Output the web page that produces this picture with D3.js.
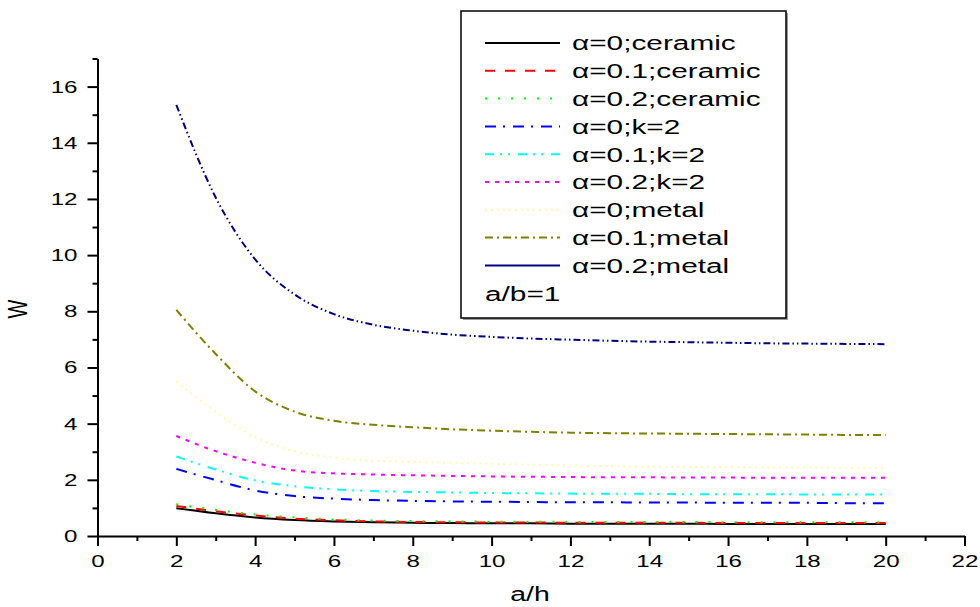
<!DOCTYPE html>
<html>
<head>
<meta charset="utf-8">
<script src="https://cdn.jsdelivr.net/npm/d3@7"></script>
<style>
  body { margin: 0; background: #fff; }
  svg { display: block; }
  text { font-family: "Liberation Sans", Arial, sans-serif; fill: #000; }
</style>
</head>
<body>
<svg id="chart" width="980" height="607"></svg>
<script>
// a/h values the curves were sampled at
const aOverH = [2, 3, 4, 5, 6, 7, 8, 9, 10, 11, 12, 13, 14, 15, 16, 17, 18, 19, 20];

// W
const ceramicA0  = [0.99, 0.81, 0.66, 0.57, 0.52, 0.49, 0.47, 0.46, 0.45, 0.45, 0.44, 0.44, 0.44, 0.44, 0.43, 0.43, 0.43, 0.43, 0.43];
const ceramicA01 = [1.07, 0.88, 0.73, 0.62, 0.56, 0.52, 0.50, 0.49, 0.48, 0.48, 0.47, 0.47, 0.47, 0.47, 0.46, 0.46, 0.46, 0.46, 0.46];
const ceramicA02 = [1.13, 0.93, 0.77, 0.66, 0.59, 0.55, 0.53, 0.52, 0.51, 0.51, 0.50, 0.50, 0.50, 0.50, 0.49, 0.49, 0.49, 0.49, 0.49];
const k2A0       = [2.39, 1.99, 1.62, 1.42, 1.33, 1.28, 1.25, 1.23, 1.22, 1.21, 1.20, 1.20, 1.19, 1.19, 1.18, 1.18, 1.18, 1.17, 1.17];
const k2A01      = [2.83, 2.37, 1.98, 1.77, 1.66, 1.60, 1.57, 1.55, 1.53, 1.52, 1.51, 1.50, 1.50, 1.49, 1.49, 1.49, 1.48, 1.48, 1.48];
const k2A02      = [3.56, 3.02, 2.61, 2.33, 2.23, 2.19, 2.16, 2.14, 2.12, 2.11, 2.10, 2.09, 2.09, 2.08, 2.08, 2.07, 2.07, 2.07, 2.07];
const metalA0    = [5.50, 4.42, 3.52, 3.02, 2.79, 2.68, 2.64, 2.61, 2.57, 2.54, 2.51, 2.49, 2.47, 2.46, 2.45, 2.44, 2.44, 2.43, 2.43];
const metalA01   = [8.05, 6.48, 5.15, 4.43, 4.10, 3.96, 3.87, 3.80, 3.75, 3.71, 3.68, 3.66, 3.65, 3.64, 3.63, 3.62, 3.61, 3.60, 3.60];
const metalA02   = [15.35, 12.05, 9.85, 8.60, 7.90, 7.52, 7.31, 7.17, 7.09, 7.03, 6.99, 6.95, 6.92, 6.90, 6.88, 6.86, 6.85, 6.84, 6.83];

const xMajor = [0, 2, 4, 6, 8, 10, 12, 14, 16, 18, 20, 22];
const xMinor = [1, 3, 5, 7, 9, 11, 13, 15, 17, 19, 21];
const yMajor = [0, 2, 4, 6, 8, 10, 12, 14, 16];
const yMinor = [1, 3, 5, 7, 9, 11, 13, 15, 17];

const series = [
  { label: "α=0;ceramic",   values: ceramicA0,  color: "#000000", dash: null },
  { label: "α=0.1;ceramic", values: ceramicA01, color: "#ff0000", dash: "10,10" },
  { label: "α=0.2;ceramic", values: ceramicA02, color: "#00ff00", dash: "2,11" },
  { label: "α=0;k=2",       values: k2A0,       color: "#0000ff", dash: "11,7,2,8" },
  { label: "α=0.1;k=2",     values: k2A01,      color: "#00ffff", dash: "9,6,2,6,2,8" },
  { label: "α=0.2;k=2",     values: k2A02,      color: "#ff00ff", dash: "4,6" },
  { label: "α=0;metal",     values: metalA0,    color: "#fbfbb0", dash: "2,4" },
  { label: "α=0.1;metal",   values: metalA01,   color: "#808000", dash: "8,4,2,4" },
  { label: "α=0.2;metal",   values: metalA02,   color: "#000080", dash: "7,3,1.5,3,1.5,3", legendDash: null }
];

// the source picture is stretched sideways, text too
const SX = 1.42;

const svg = d3.select("#chart");

const x = d3.scaleLinear().domain([0, 22]).range([97.5, 964.5]);
const y = d3.scaleLinear().domain([0, 17]).range([536, 58.5]);

// curves
const line = d3.line()
  .x((d, i) => x(aOverH[i]))
  .y(d => y(d))
  .curve(d3.curveMonotoneX);

svg.append("g")
  .selectAll("path")
  .data(series)
  .enter()
  .append("path")
  .attr("d", d => line(d.values))
  .attr("fill", "none")
  .attr("stroke", d => d.color)
  .attr("stroke-width", 2)
  .attr("stroke-dasharray", d => d.dash);

// axes
function styleAxis(g) {
  g.select(".domain").attr("stroke-width", 2);
  g.selectAll(".tick line").attr("stroke-width", 2);
}

const xAxis = svg.append("g")
  .attr("transform", `translate(0,${y(0)})`)
  .call(d3.axisBottom(x).tickValues(xMajor).tickSize(10).tickSizeOuter(0).tickPadding(9))
  .call(styleAxis);
xAxis.selectAll("text")
  .attr("font-size", 17)
  .attr("transform", `scale(${SX},1)`);

svg.append("g")
  .attr("transform", `translate(0,${y(0)})`)
  .call(d3.axisBottom(x).tickValues(xMinor).tickSize(5).tickFormat(""))
  .call(g => g.select(".domain").remove())
  .call(styleAxis);

const yAxis = svg.append("g")
  .attr("transform", `translate(${x(0)},0)`)
  .call(d3.axisLeft(y).tickValues(yMajor).tickSize(10).tickSizeOuter(0))
  .call(styleAxis);
yAxis.selectAll("text")
  .attr("font-size", 17)
  .attr("x", -20 / SX)
  .attr("transform", `scale(${SX},1)`);

svg.append("g")
  .attr("transform", `translate(${x(0)},0)`)
  .call(d3.axisLeft(y).tickValues(yMinor).tickSize(5).tickFormat(""))
  .call(g => g.select(".domain").remove())
  .call(styleAxis);

// axis titles
svg.append("text")
  .attr("transform", `translate(530,601) scale(${SX},1)`)
  .attr("text-anchor", "middle")
  .attr("font-size", 20)
  .text("a/h");

svg.append("text")
  .attr("transform", `translate(27,309) scale(${SX},1) rotate(-90)`)
  .attr("text-anchor", "middle")
  .attr("font-size", 20)
  .text("W");

// legend
const legend = svg.append("g");
legend.append("rect")
  .attr("x", 463).attr("y", 13)
  .attr("width", 325).attr("height", 307)
  .attr("fill", "#9a9a9a");
legend.append("rect")
  .attr("x", 461).attr("y", 11)
  .attr("width", 325).attr("height", 307)
  .attr("fill", "#fff")
  .attr("stroke", "#000")
  .attr("stroke-width", 1.5);

const rowY = i => 43 + i * 27.8;

const item = legend.selectAll("g.item")
  .data(series)
  .enter()
  .append("g")
  .attr("class", "item");

item.append("line")
  .attr("x1", 485).attr("x2", 560)
  .attr("y1", (d, i) => rowY(i)).attr("y2", (d, i) => rowY(i))
  .attr("stroke", d => d.color)
  .attr("stroke-width", 2)
  .attr("stroke-dasharray", d => d.legendDash === undefined ? d.dash : d.legendDash);

item.append("text")
  .attr("transform", (d, i) => `translate(572,${rowY(i)}) scale(${SX},1)`)
  .attr("dy", "0.35em")
  .attr("font-size", 21)
  .text(d => d.label);

legend.append("text")
  .attr("transform", `translate(485,${rowY(series.length)}) scale(${SX},1)`)
  .attr("dy", "0.35em")
  .attr("font-size", 21)
  .text("a/b=1");
</script>
</body>
</html>
